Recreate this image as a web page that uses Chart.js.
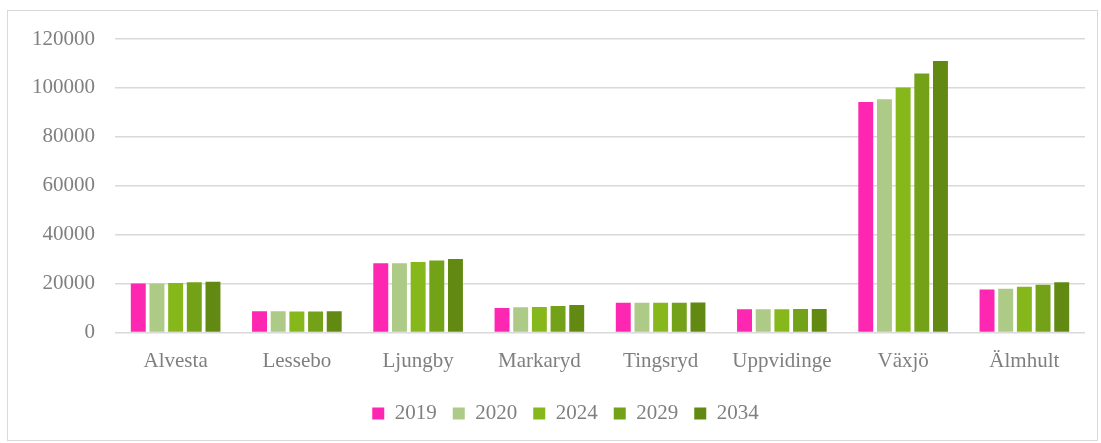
<!DOCTYPE html>
<html>
<head>
<meta charset="utf-8">
<script src="https://cdn.jsdelivr.net/npm/chart.js@4/dist/chart.umd.min.js"></script>
<style>
  body { margin: 0; background: #fff; }
  .ram {
    position: absolute; left: 7px; top: 10px;
    width: 1089px; height: 429px;
    border: 1px solid #d9d9d9;
  }
</style>
</head>
<body>
<div class="ram"><canvas id="grapik"></canvas></div>
<script>
// kommuner och befolkning per år
var kommuner = ['Alvesta', 'Lessebo', 'Ljungby', 'Markaryd', 'Tingsryd', 'Uppvidinge', 'Växjö', 'Älmhult'];
var ar = ['2019', '2020', '2024', '2029', '2034'];

var v2019 = [20100, 8700, 28300, 10100, 12250, 9550, 94200, 17600];
var v2020 = [20100, 8750, 28350, 10350, 12250, 9550, 95400, 17900];
var v2024 = [20300, 8600, 28850, 10500, 12200, 9550, 100200, 18700];
var v2029 = [20600, 8650, 29500, 10900, 12250, 9600, 105900, 19600];
var v2034 = [20750, 8700, 30100, 11300, 12350, 9650, 111000, 20600];

var farger = ['#fd27b2', '#adca87', '#86b71b', '#73a219', '#628a12'];
var serier = [v2019, v2020, v2024, v2029, v2034];

var textfarg = '#7f7f7f';
var typsnitt = "'Liberation Serif', 'DejaVu Serif', serif";

// flytta legenden lite åt höger
var flyttaLegend = {
    id: 'flyttaLegend',
    afterLayout: function (chart) {
        chart.legend.left += 17;
        chart.legend.right += 17;
    }
};

var ctx = document.getElementById('grapik').getContext('2d');
var chart = new Chart(ctx, {
    type: 'bar',
    plugins: [flyttaLegend],
    data: {
        labels: kommuner,
        datasets: serier.map(function (s, i) {
            return {
                label: ar[i],
                data: s,
                backgroundColor: farger[i],
                borderWidth: 0,
                categoryPercentage: 0.77,
                barPercentage: 0.8
            };
        })
    },
    options: {
        responsive: true,
        maintainAspectRatio: false,
        animation: false,
        layout: {
            padding: { top: 28, right: 12, left: 4, bottom: 6 }
        },
        plugins: {
            legend: {
                position: 'bottom',
                title: {
                    display: true,
                    text: '',
                    font: { size: 1 },
                    padding: { top: 4, bottom: 0 }
                },
                labels: {
                    boxWidth: 12,
                    boxHeight: 12,
                    padding: 16,
                    color: textfarg,
                    font: { family: typsnitt, size: 21 }
                }
            },
            tooltip: { enabled: false }
        },
        scales: {
            x: {
                grid: { display: false },
                border: { display: false },
                ticks: {
                    color: textfarg,
                    padding: 8,
                    font: { family: typsnitt, size: 21 }
                }
            },
            y: {
                min: 0,
                max: 120000,
                afterFit: function (axis) { axis.paddingTop = 0; },
                ticks: {
                    stepSize: 20000,
                    color: textfarg,
                    padding: 20,
                    font: { family: typsnitt, size: 21 },
                    callback: function (v) { return String(v); }
                },
                grid: {
                    color: '#d9d9d9',
                    lineWidth: 1.5,
                    drawTicks: false
                },
                border: { display: false }
            }
        }
    }
});
</script>
</body>
</html>
